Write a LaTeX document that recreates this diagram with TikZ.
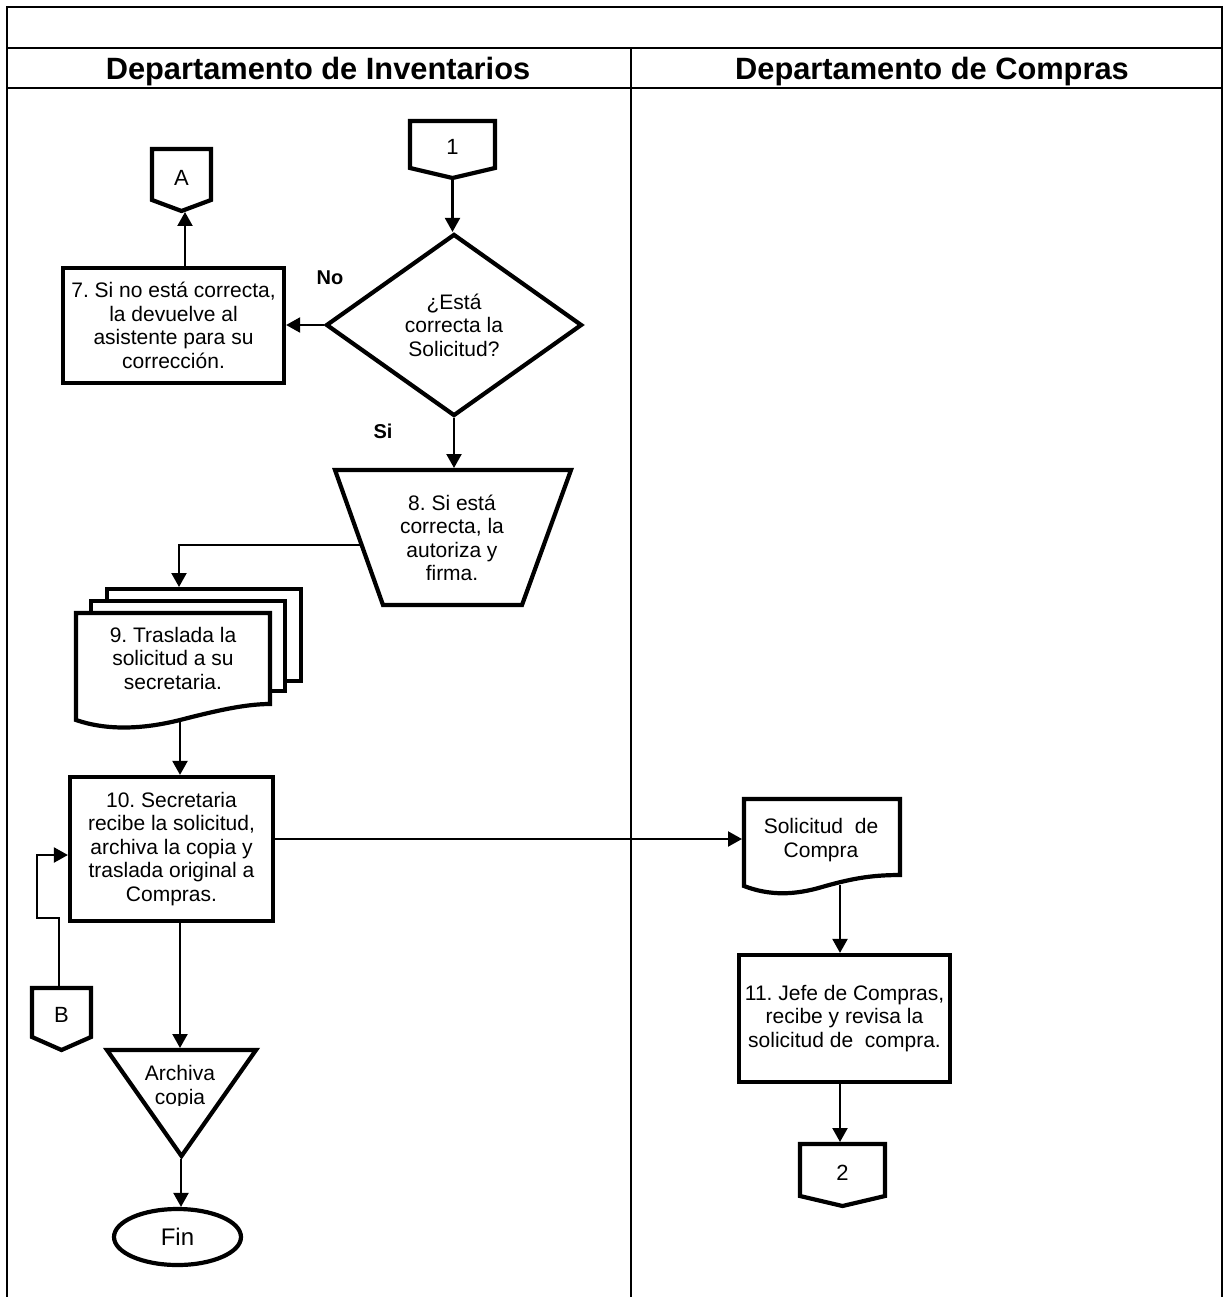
\documentclass[tikz,border=0pt]{standalone}
\usepackage{fontspec}
\setmainfont{Liberation Sans}
\usetikzlibrary{arrows.meta,shapes.geometric,calc}
\frenchspacing
\begin{document}
\begin{tikzpicture}[x=1pt,y=-1pt,
  lane/.style={line width=2.5pt},
  shp/.style={draw,line width=4.2pt,fill=white,line join=miter},
  txt/.style={font=\fontsize{21}{23.5}\selectfont,align=center,inner sep=0pt},
  box/.style={shp,txt,rectangle},
  lbl/.style={font=\fontsize{22}{24}\selectfont,inner sep=0pt},
  tag/.style={font=\bfseries\fontsize{20}{22}\selectfont,inner sep=0pt},
  head/.style={font=\bfseries\fontsize{30.8}{32}\selectfont,inner sep=0pt,anchor=base},
  conn/.style={line width=2.2pt,-{Triangle[length=14pt,width=15pt]}},
]
\useasboundingbox (0,0) rectangle (1224,1297);
\fill[white] (0,0) rectangle (1224,1297);

% swimlane frame
\draw[lane] (7,1297) -- (7,7) -- (1222,7) -- (1222,1297);
\draw[lane] (7,48) -- (1222,48);
\draw[lane] (7,88) -- (1222,88);
\draw[lane] (631,48) -- (631,1297);
\node[head] (hinv) at (318,80) {Departamento de Inventarios};
\node[head] (hcom) at (932,80) {Departamento de Compras};

% off-page connector 1
\draw[shp] (410,121) -- (495,121) -- (495,168) -- (452.5,178) -- (410,168) -- cycle;
\node[lbl] (c1) at (452.5,147) {1};
\coordinate (c1tip) at (452.5,180);

% off-page connector A
\draw[shp] (152,149) -- (211,149) -- (211,200) -- (181.5,211) -- (152,200) -- cycle;
\node[lbl] (ca) at (181.5,178) {A};
\coordinate (catip) at (185,212);

% decision
\node[shp,shape=diamond,aspect=1.4,minimum width=256pt,minimum height=182pt,inner sep=0pt,txt] (dq) at (454,325) {¿Está\\correcta la\\Solicitud?};

% step 7
\node[box,minimum width=221pt,minimum height=115pt] (b7) at (173.5,325.5)
  {7. Si no está correcta,\\la devuelve al\\asistente para su\\corrección.};

\node[tag] (no) at (330,278) {No};
\node[tag] (si) at (383,431) {Si};

% step 8: manual operation
\draw[shp] (335,470) -- (571,470) -- (522,605) -- (383,605) -- cycle;
\node[txt] (t8) at (452,538) {8. Si está\\correcta, la\\autoriza y\\firma.};
\coordinate (t8top) at (453,468);
\coordinate (t8left) at (362,545);

% step 9: multiple documents
\draw[shp] (107,589) rectangle (301,681);
\draw[shp] (91,601) rectangle (285,691);
\draw[shp] (76,613) -- (270,613) -- (270,704)
  .. controls (245,704) and (215,711) .. (180,720)
  .. controls (140,730) and (105,730) .. (76,720) -- cycle;
\node[txt] (d9) at (173,658) {9. Traslada la\\solicitud a su\\secretaria.};
\coordinate (d9top) at (179,587);
\coordinate (d9bot) at (180,721);

% step 10
\node[box,minimum width=203pt,minimum height=144pt] (b10) at (171.5,849)
  {10. Secretaria\\recibe la solicitud,\\archiva la copia y\\traslada original a\\Compras.};

% off-page connector B
\draw[shp] (32,988) -- (91,988) -- (91,1037) -- (61.5,1050) -- (32,1037) -- cycle;
\node[lbl] (cb) at (61.5,1015) {B};
\coordinate (cbtop) at (59,986);

% archive (merge triangle)
\draw[shp] (107,1050) -- (256,1050) -- (181.5,1156) -- cycle;
\begin{scope}
  \clip (100,1055) rectangle (262,1105.5);
  \node[txt] (arch) at (180,1087) {Archiva\\copia};
\end{scope}
\coordinate (tritop) at (180,1048);
\coordinate (tribot) at (181,1159);

% terminator
\node[shp,ellipse,minimum width=127pt,minimum height=56pt,inner sep=0pt,font=\fontsize{24}{26}\selectfont] (fin) at (177.5,1237) {Fin};

% purchase request document
\draw[shp] (744,799) -- (900,799) -- (900,875)
  .. controls (870,875) and (850,879) .. (822,887)
  .. controls (795,895) and (770,896) .. (744,886) -- cycle;
\node[txt] (sd) at (821,840) {Solicitud\ \ de\\Compra};
\coordinate (sdin) at (742,839);
\coordinate (sdout) at (840,885);

% step 11
\node[box,minimum width=211pt,minimum height=127pt] (b11) at (844.5,1018.5)
  {11. Jefe de Compras,\\recibe y revisa la\\solicitud de\ \ compra.};

% off-page connector 2
\draw[shp] (800,1144) -- (885,1144) -- (885,1196) -- (842.5,1206) -- (800,1196) -- cycle;
\node[lbl] (c2) at (842.5,1173) {2};
\coordinate (c2top) at (840,1142);

% connectors
\draw[conn] (c1tip) -- (c1tip |- dq.north);
\draw[conn] (dq.west) -- (dq.west -| b7.east);
\draw[conn] (catip |- b7.north) -- (catip);
\draw[conn] (dq.south) -- (dq.south |- t8top);
\draw[conn] (t8left) -| (d9top);
\draw[conn] (d9bot) -- (d9bot |- b10.north);
\draw[conn] (cbtop) |- (37,918) |- ([yshift=-6pt]b10.west);
\draw[conn] (tritop |- b10.south) -- (tritop);
\draw[conn] (tribot) -- (tribot |- fin.north);
\draw[conn] (b10.east |- sdin) -- (sdin);
\draw[conn] (sdout) -- (sdout |- b11.north);
\draw[conn] (c2top |- b11.south) -- (c2top);
\end{tikzpicture}
\end{document}
